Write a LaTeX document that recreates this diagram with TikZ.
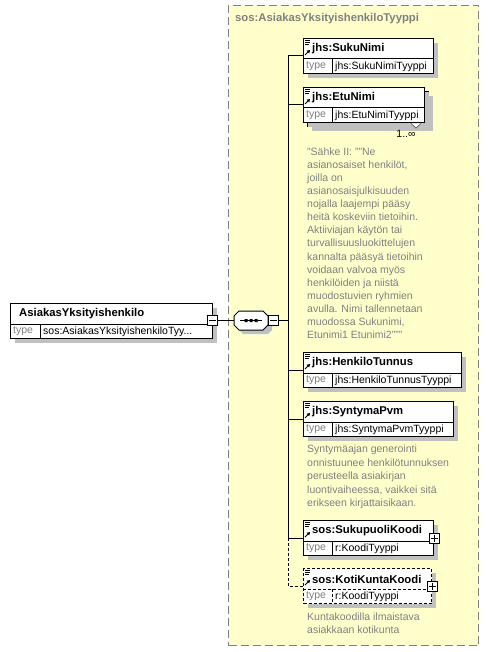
\documentclass[tikz,border=0pt]{standalone}
\usepackage{fontspec}
\setmainfont{Liberation Sans}
\usetikzlibrary{arrows.meta}
\definecolor{cyel}{HTML}{FFFFCC}
\definecolor{cgray}{HTML}{808080}
\definecolor{cshadow}{HTML}{C0C0C0}
\tikzset{
  tx/.style={inner sep=0pt, anchor=base west},
  cx/.style={inner sep=0pt, anchor=west},
  bf/.style={font=\fontsize{11.3}{13}\selectfont\bfseries},
  elb/.style={draw, fill=white, inner sep=0pt, line width=1pt, anchor=north west},
  pmbox/.style={draw, fill=white, inner sep=0pt, minimum size=10pt, line width=1pt},
  conn/.style={line width=1pt},
  optb/.style={dash pattern=on 3pt off 2pt},
}
% #1 name, #2 x, #3 y, #4 width, #5 title, #6 type, #7 extra style
\newcommand\elbox[7]{%
  \fill[cshadow] (#2+5,#3+5) rectangle ++(#4,35);
  \node[elb,#7,minimum width=#4pt,minimum height=35pt] (#1) at (#2,#3) {};
  \draw[line width=1pt,#7] (#2,#3+21) -- ++(#4,0);
  \draw[line width=1pt,#7] (#2+29,#3+21) -- ++(0,14);
  \node[cx,bf] (#1-n) at (#2+9,#3+11) {#5};
  \node[cx,text=cgray] (#1-k) at (#2+3,#3+28.5) {type};
  \node[cx] (#1-t) at (#2+32,#3+28.5) {#6};
  \draw[line width=0.8pt] (#2+2,#3+2.5) -- ++(5,0) (#2+2,#3+4.5) -- ++(5,0) (#2+2,#3+6.5) -- ++(4,0);
  \draw[line width=0.8pt,-{Triangle[length=3pt,width=3.5pt]}] (#2+2,#3+17) -- (#2+7,#3+12);
}
\begin{document}
\begin{tikzpicture}[x=1pt,y=-1pt,font=\fontsize{10.5}{13}\selectfont]
\useasboundingbox (0,0) rectangle (489,652);
\fill[white] (0,0) rectangle (489,652);

% container type
\node[draw=cgray, line width=1pt, dash pattern=on 8pt off 4pt, fill=cyel, minimum width=250pt, minimum height=640pt, anchor=north west, inner sep=0pt] (ctype) at (228,5) {};
\node[tx,bf,text=cgray] (ctitle) at (235,22) {sos:AsiakasYksityishenkiloTyyppi};

% main element
\fill[cshadow] (15,308) rectangle ++(202,35);
\node[elb,minimum width=202pt,minimum height=35pt] (main) at (10,303) {};
\draw[line width=1pt] (10,324) -- ++(202,0) (40,324) -- ++(0,14);
\node[cx,bf] (main-n) at (19,313.5) {AsiakasYksityishenkilo};
\node[cx,text=cgray] (main-k) at (13,331.5) {type};
\node[cx] (main-t) at (43,331.5) {sos:AsiakasYksityishenkiloTyy...};
\node[pmbox] (mainm) at (212,320.5) {};
\draw[line width=1pt] ([xshift=2pt]mainm.west) -- ([xshift=-2pt]mainm.east);

% sequence compositor
\fill[cshadow] (243,315) -- (268,315) -- (272,319) -- (272,330) -- (268,334) -- (243,334) -- (239,330) -- (239,319) -- cycle;
\node[minimum width=34pt,minimum height=19pt,inner sep=0pt] (seq) at (251,320.5) {};
\draw[line width=1pt,fill=white] (239,311) -- (263,311) -- (268,316) -- (268,325) -- (263,330) -- (239,330) -- (234,325) -- (234,316) -- cycle;
\draw[line width=1pt] (240,320.5) -- (262,320.5);
\fill (244.5,319) rectangle ++(3,3) (249.5,319) rectangle ++(3,3) (254.5,319) rectangle ++(3,3);
\node[pmbox] (seqm) at (273.5,320.5) {};
\draw[line width=1pt] ([xshift=2pt]seqm.west) -- ([xshift=-2pt]seqm.east);
\draw[conn] (mainm.east) -- (seq.west);

\coordinate (sp) at (288,0);

% elements
\elbox{suku}{303}{38}{130}{jhs:SukuNimi}{jhs:SukuNimiTyyppi}{}
% EtuNimi multiple
\fill[cshadow] (312,96) rectangle ++(121,35);
\node[elb,minimum width=121pt,minimum height=35pt] (etuback) at (307,91) {};
\elbox{etu}{303}{87}{121}{jhs:EtuNimi}{jhs:EtuNimiTyyppi}{}
\draw[line width=0.8pt,draw=black!60,fill=white] (411,123.5) -- (416,128) -- (421,123.5);
\node[inner sep=0pt] (etuocc) at (406,134) {1..∞};

\elbox{henk}{303}{352}{158}{jhs:HenkiloTunnus}{jhs:HenkiloTunnusTyyppi}{}
\elbox{synt}{303}{401}{150}{jhs:SyntymaPvm}{jhs:SyntymaPvmTyyppi}{}
\elbox{supu}{303}{520}{130}{sos:SukupuoliKoodi}{r:KoodiTyyppi}{}
\node[pmbox] (supup) at (supu.east) {};
\draw[line width=1pt] ([xshift=2pt]supup.west) -- ([xshift=-2pt]supup.east) ([yshift=-2pt]supup.north) -- ([yshift=2pt]supup.south);
\elbox{koti}{303}{568}{128}{sos:KotiKuntaKoodi}{r:KoodiTyyppi}{optb}
\node[pmbox] (kotip) at (koti.east) {};
\draw[line width=1pt] ([xshift=2pt]kotip.west) -- ([xshift=-2pt]kotip.east) ([yshift=-2pt]kotip.north) -- ([yshift=2pt]kotip.south);

% connectors
\draw[conn] (suku.west) -- (suku.west -| sp) -- (supu.west -| sp) -- (supu.west);
\draw[conn] (seqm.east) -- (seqm.east -| sp);
\draw[conn] (etu.west) -- (etu.west -| sp);
\draw[conn] (henk.west) -- (henk.west -| sp);
\draw[conn] (synt.west) -- (synt.west -| sp);
\draw[conn,optb] (supu.west -| sp) -- (koti.west -| sp) -- (koti.west);

% annotations
\foreach \l [count=\i] in {"Sähke II: ""Ne,{asianosaiset henkilöt,},joilla on,asianosaisjulkisuuden,nojalla laajempi pääsy,heitä koskeviin tietoihin.,Aktiiviajan käytön tai,turvallisuusluokittelujen,kannalta pääsyä tietoihin,voidaan valvoa myös,henkilöiden ja niistä,muodostuvien ryhmien,{avulla. Nimi tallennetaan},{muodossa Sukunimi,},{Etunimi1 Etunimi2"""}}
  \node[tx,text=cgray] (a1-\i) at (307,155.5+13.07*\i-13.07) {\l};
\foreach \l [count=\i] in {Syntymäajan generointi,onnistuunee henkilötunnuksen,perusteella asiakirjan,{luontivaiheessa, vaikkei sitä},erikseen kirjattaisikaan.}
  \node[tx,text=cgray] (a2-\i) at (307,452.5+13.5*\i-13.5) {\l};
\foreach \l [count=\i] in {Kuntakoodilla ilmaistava,asiakkaan kotikunta}
  \node[tx,text=cgray] (a3-\i) at (307,620.5+13.2*\i-13.2) {\l};
\end{tikzpicture}
\end{document}
